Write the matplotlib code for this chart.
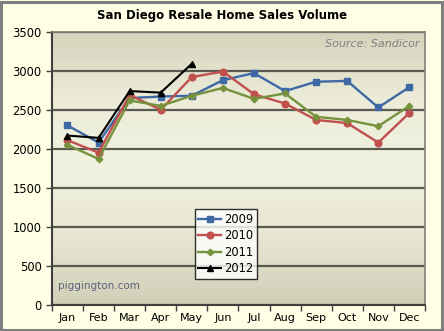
import numpy as np
import matplotlib
matplotlib.use("Agg")
import matplotlib.pyplot as plt
from matplotlib.colors import LinearSegmentedColormap

months = ["Jan", "Feb", "Mar", "Apr", "May", "Jun", "Jul", "Aug", "Sep", "Oct", "Nov", "Dec"]
sales_2009 = [2300, 2080, 2650, 2670, 2680, 2880, 2970, 2740, 2860, 2870, 2530, 2790]
sales_2010 = [2110, 1950, 2690, 2500, 2920, 2990, 2700, 2580, 2370, 2330, 2080, 2460]
sales_2011 = [2050, 1870, 2620, 2550, 2680, 2780, 2640, 2710, 2410, 2370, 2290, 2550]
sales_2012 = [2170, 2140, 2740, 2720, 3090]

fig = plt.figure(figsize=(4.44, 3.31), dpi=100, facecolor="#ffffe6")
# grey frame round the whole picture
fig.patches.append(plt.Rectangle((0.002, 0.003), 0.994, 0.992, transform=fig.transFigure,
                                 fill=False, edgecolor="#7f7f7f", linewidth=2.2))

ax = fig.add_axes([0.117, 0.079, 0.840, 0.825])

# plot area gradient, darker at top and bottom
cmap = LinearSegmentedColormap.from_list("bg", ["#d4d4bc", "#ececd9", "#f2f2e1", "#e6e6d2", "#d0d0b8"])
grad = np.linspace(0, 1, 256).reshape(-1, 1)
ax.imshow(grad, aspect="auto", cmap=cmap, extent=[0, 1, 0, 1], transform=ax.transAxes,
          zorder=0, origin="upper")

x = np.arange(len(months))
ax.plot(x, sales_2009, color="#3e69a4", marker="s", markersize=4.2, linewidth=1.7, label="2009", zorder=3)
ax.plot(x, sales_2010, color="#c0504d", marker="o", markersize=4.8, linewidth=1.7, label="2010", zorder=3)
ax.plot(x, sales_2011, color="#76923c", marker="D", markersize=3.3, linewidth=1.7, label="2011", zorder=3)
ax.plot(x[:len(sales_2012)], sales_2012, color="black", marker="^", markersize=4.8, linewidth=1.5,
        label="2012", zorder=4)

ax.set_xlim(-0.5, 11.5)
ax.set_ylim(0, 3500)
ax.set_yticks(range(0, 3501, 500))
ax.set_xticks(x)
ax.set_xticklabels(months)
ax.yaxis.grid(True, color="#5a5a50", linewidth=1.6)
ax.set_axisbelow(True)

# extra ticks between months on the x axis
ax.set_xticks(np.arange(-0.5, 12, 1), minor=True)
ax.tick_params(axis="x", which="major", length=0, labelsize=8, pad=6)
ax.tick_params(axis="x", which="minor", length=4, color="#404040", width=1)
ax.tick_params(axis="y", length=4, labelsize=8.3, color="#404040", width=1)

for s in ["left", "bottom"]:
    ax.spines[s].set_color("#404040")
    ax.spines[s].set_linewidth(1.5)
for s in ["top", "right"]:
    ax.spines[s].set_color("#808078")
    ax.spines[s].set_linewidth(1.2)

fig.text(0.5, 0.953, "San Diego Resale Home Sales Volume", ha="center", va="center",
         fontsize=8.5, fontweight="bold")
ax.text(0.985, 0.955, "Source: Sandicor", transform=ax.transAxes, ha="right", va="center",
        fontsize=8, style="italic", color="#808080")
ax.text(0.015, 0.068, "piggington.com", transform=ax.transAxes, ha="left", va="center",
        fontsize=7.5, color="#60607e")

leg = ax.legend(loc="center", bbox_to_anchor=(0.466, 0.223), fontsize=8.3, frameon=True,
                fancybox=False, handlelength=2.0, handletextpad=0.2, borderpad=0.3,
                labelspacing=0.3, borderaxespad=0)
leg.get_frame().set_edgecolor("black")
leg.get_frame().set_linewidth(1)
leg.get_frame().set_facecolor("white")

fig.savefig("out.png", dpi=100, facecolor=fig.get_facecolor())
